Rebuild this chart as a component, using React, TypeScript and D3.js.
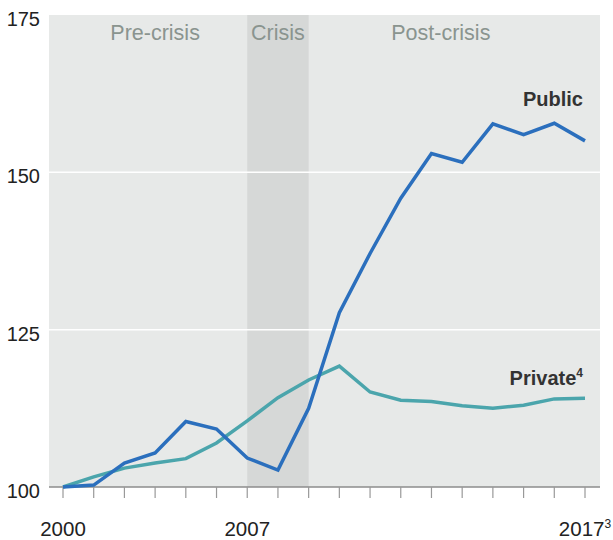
import React from 'react';
import * as d3 from 'd3';

// index-based x axis: 18 observations, 2000 … 2017
const tickLabels = ['2000', '', '', '', '', '', '2007', '', '', '', '', '', '', '', '', '', '', '2017'];
const publicValues = [100, 100.3, 103.8, 105.4, 110.4, 109.2, 104.6, 102.7, 112.5, 127.7, 137.1, 145.9, 153.0, 151.6, 157.7, 156.0, 157.8, 155.0];
const privateValues = [100, 101.6, 103.0, 103.8, 104.5, 107.0, 110.5, 114.2, 117.0, 119.2, 115.1, 113.8, 113.6, 112.9, 112.5, 113.0, 114.0, 114.1];
const yTicks = [100, 125, 150, 175];
const phases = [
  { label: 'Pre-crisis', from: 0, to: 6 },
  { label: 'Crisis', from: 6, to: 8 },
  { label: 'Post-crisis', from: 8, to: 17 },
];

const FONT = '"Liberation Sans", Arial, Helvetica, sans-serif';

const App: React.FC = () => {
  const svgRef = React.useRef<SVGSVGElement>(null);
  const width = 613;
  const height = 540;

  React.useEffect(() => {
    if (!svgRef.current) return;
    const svg = d3.select(svgRef.current);
    svg.selectAll('*').remove();

    const x = d3.scaleLinear().domain([0, tickLabels.length - 1]).range([63, 585]);
    const y = d3.scaleLinear().domain([100, 175]).range([487, 15]);

    const left = x(0) - 14;
    const right = x(tickLabels.length - 1) + 15;

    // background panel
    svg.append('rect')
      .attr('x', left).attr('y', y(175))
      .attr('width', right - left).attr('height', y(100) - y(175))
      .attr('fill', '#e7e9e8');

    // crisis band
    const crisis = phases[1];
    svg.append('rect')
      .attr('x', x(crisis.from)).attr('y', y(175))
      .attr('width', x(crisis.to) - x(crisis.from)).attr('height', y(100) - y(175))
      .attr('fill', '#d6d8d7');

    // gridlines
    yTicks.filter(t => t > 100 && t < 175).forEach(t => {
      svg.append('line')
        .attr('x1', left).attr('x2', right)
        .attr('y1', y(t)).attr('y2', y(t))
        .attr('stroke', '#fff').attr('stroke-width', 1.5);
    });

    // y labels
    yTicks.forEach(t => {
      svg.append('text')
        .attr('x', 40).attr('y', y(t) + 4)
        .attr('text-anchor', 'end')
        .attr('dominant-baseline', 'central')
        .attr('font-family', FONT).attr('font-size', 20)
        .attr('fill', '#222')
        .text(t);
    });

    // phase labels
    const offsets = [0, 0, -6];
    phases.forEach((p, i) => {
      svg.append('text')
        .attr('x', (x(p.from) + x(p.to)) / 2 + offsets[i])
        .attr('y', 40)
        .attr('text-anchor', 'middle')
        .attr('font-family', FONT).attr('font-size', 21.5)
        .attr('fill', '#8a948f')
        .text(p.label);
    });

    // x axis
    svg.append('line')
      .attr('x1', left).attr('x2', right)
      .attr('y1', y(100)).attr('y2', y(100))
      .attr('stroke', '#8c8c8c').attr('stroke-width', 1.5);

    tickLabels.forEach((lab, i) => {
      svg.append('line')
        .attr('x1', x(i)).attr('x2', x(i))
        .attr('y1', y(100)).attr('y2', y(100) + 11)
        .attr('stroke', '#999').attr('stroke-width', 1.2);
      if (lab) {
        const t = svg.append('text')
          .attr('x', x(i)).attr('y', 536)
          .attr('text-anchor', 'middle')
          .attr('font-family', FONT).attr('font-size', 20.5)
          .attr('fill', '#222');
        t.append('tspan').text(lab);
        if (i === tickLabels.length - 1) {
          t.append('tspan').attr('font-size', 12).attr('dy', -8).text('3');
        }
      }
    });

    const line = d3.line<number>()
      .x((_, i) => x(i))
      .y(d => y(d));

    svg.append('path')
      .datum(privateValues)
      .attr('fill', 'none')
      .attr('stroke', '#4ba5ac')
      .attr('stroke-width', 3.5)
      .attr('stroke-linejoin', 'miter')
      .attr('d', line);

    svg.append('path')
      .datum(publicValues)
      .attr('fill', 'none')
      .attr('stroke', '#2b6fbd')
      .attr('stroke-width', 3.5)
      .attr('stroke-linejoin', 'miter')
      .attr('d', line);

    // series labels
    svg.append('text')
      .attr('x', 583).attr('y', 106)
      .attr('text-anchor', 'end')
      .attr('font-family', FONT).attr('font-size', 20).attr('font-weight', 'bold')
      .attr('fill', '#333')
      .text('Public');

    const pv = svg.append('text')
      .attr('x', 583).attr('y', 385)
      .attr('text-anchor', 'end')
      .attr('font-family', FONT).attr('font-size', 20).attr('font-weight', 'bold')
      .attr('fill', '#333');
    pv.append('tspan').text('Private');
    pv.append('tspan').attr('font-size', 12).attr('dy', -8).text('4');
  }, []);

  return (
    <div>
      <style>{'body{margin:0}'}</style>
      <svg ref={svgRef} width={width} height={height} style={{ display: 'block' }} />
    </div>
  );
};

export default App;
